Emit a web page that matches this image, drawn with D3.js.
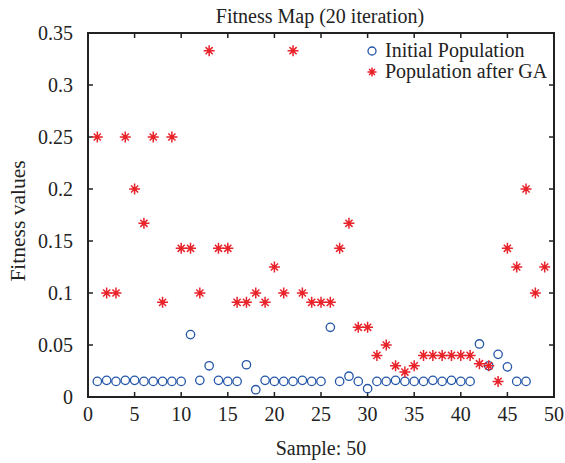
<!DOCTYPE html>
<html>
<head>
<script src="https://d3js.org/d3.v7.min.js"></script>
<style>
  body { margin: 0; background: #fff; }
  text { font-family: "Liberation Serif", "Times New Roman", serif; fill: #222; }
</style>
</head>
<body>
<div id="chart"></div>
<script>
// sample index per series
var initialX = d3.range(1, 48);
var initialY = [0.015, 0.016, 0.015, 0.016, 0.016, 0.015, 0.015, 0.015, 0.015, 0.015,
                0.060, 0.016, 0.030, 0.016, 0.015, 0.015, 0.031, 0.007, 0.016, 0.015,
                0.015, 0.015, 0.016, 0.015, 0.015, 0.067, 0.015, 0.020, 0.015, 0.008,
                0.015, 0.015, 0.016, 0.015, 0.015, 0.015, 0.016, 0.015, 0.016, 0.015,
                0.015, 0.051, 0.030, 0.041, 0.029, 0.015, 0.015];
var gaX = d3.range(1, 50);
var gaY = [0.25, 0.1, 0.1, 0.25, 0.2, 0.167, 0.25, 0.091, 0.25, 0.143,
           0.143, 0.1, 0.333, 0.143, 0.143, 0.091, 0.091, 0.1, 0.091, 0.125,
           0.1, 0.333, 0.1, 0.091, 0.091, 0.091, 0.143, 0.167, 0.067, 0.067,
           0.04, 0.05, 0.03, 0.024, 0.03, 0.04, 0.04, 0.04, 0.04, 0.04,
           0.04, 0.032, 0.03, 0.015, 0.143, 0.125, 0.2, 0.1, 0.125];
var xTicks = [0, 5, 10, 15, 20, 25, 30, 35, 40, 45, 50];
var yTicks = [0, 0.05, 0.1, 0.15, 0.2, 0.25, 0.3, 0.35];
var legendLabels = ["Initial Population", "Population after GA"];

var W = 565, H = 463;
var pLeft = 88, pRight = 554, pTop = 33, pBottom = 397;
var blue = "#2456a8", red = "#e8232a";

var svg = d3.select("#chart").append("svg")
    .attr("width", W).attr("height", H);

var x = d3.scaleLinear().domain([0, 50]).range([pLeft, pRight]);
var y = d3.scaleLinear().domain([0, 0.35]).range([pBottom, pTop]);

// box
svg.append("rect")
    .attr("x", pLeft).attr("y", pTop)
    .attr("width", pRight - pLeft).attr("height", pBottom - pTop)
    .attr("fill", "none").attr("stroke", "#222").attr("stroke-width", 2);

// inward ticks on all four sides
var tl = 5;
svg.selectAll(".xt").data(xTicks).enter().append("path")
    .attr("d", function(d) {
        return "M" + x(d) + "," + pBottom + "v" + (-tl) + "M" + x(d) + "," + pTop + "v" + tl;
    })
    .attr("stroke", "#222").attr("stroke-width", 1.5);
svg.selectAll(".yt").data(yTicks).enter().append("path")
    .attr("d", function(d) {
        return "M" + pLeft + "," + y(d) + "h" + tl + "M" + pRight + "," + y(d) + "h" + (-tl);
    })
    .attr("stroke", "#222").attr("stroke-width", 1.5);

svg.selectAll(".xl").data(xTicks).enter().append("text")
    .attr("x", function(d) { return x(d); })
    .attr("y", pBottom + 24)
    .attr("text-anchor", "middle")
    .attr("font-size", 20)
    .text(function(d) { return d; });
svg.selectAll(".yl").data(yTicks).enter().append("text")
    .attr("x", 73)
    .attr("y", function(d) { return y(d) + 7; })
    .attr("text-anchor", "end")
    .attr("font-size", 20)
    .text(function(d) { return d; });

svg.append("text")
    .attr("x", 320).attr("y", 23)
    .attr("text-anchor", "middle").attr("font-size", 20)
    .text("Fitness Map (20 iteration)");
svg.append("text")
    .attr("x", 321).attr("y", 455)
    .attr("text-anchor", "middle").attr("font-size", 20)
    .text("Sample: 50");
svg.append("text")
    .attr("transform", "translate(25,221) rotate(-90)")
    .attr("text-anchor", "middle").attr("font-size", 21.5)
    .text("Fitness values");

function star(g, cx, cy, s) {
    var d = s * 0.65;
    g.append("path")
        .attr("d", "M" + (cx - s) + "," + cy + "h" + (2 * s) +
                   "M" + cx + "," + (cy - s) + "v" + (2 * s) +
                   "M" + (cx - d) + "," + (cy - d) + "l" + (2 * d) + "," + (2 * d) +
                   "M" + (cx - d) + "," + (cy + d) + "l" + (2 * d) + "," + (-2 * d))
        .attr("stroke", red).attr("stroke-width", 1.5).attr("fill", "none");
    g.append("circle").attr("cx", cx).attr("cy", cy).attr("r", 2).attr("fill", red);
}

// initial population circles
svg.append("g").selectAll("circle")
    .data(initialY).enter().append("circle")
    .attr("cx", function(d, i) { return x(initialX[i]); })
    .attr("cy", function(d) { return y(d); })
    .attr("r", 4.2)
    .attr("fill", "none").attr("stroke", blue).attr("stroke-width", 1.3);

// GA stars
var gs = svg.append("g");
gaY.forEach(function(d, i) { star(gs, x(gaX[i]), y(d), 5.5); });

// legend
var lg = svg.append("g");
lg.append("circle").attr("cx", 372).attr("cy", 51).attr("r", 4)
    .attr("fill", "none").attr("stroke", blue).attr("stroke-width", 1.3);
star(lg, 372, 72, 4.5);
lg.selectAll("text").data(legendLabels).enter().append("text")
    .attr("x", 385)
    .attr("y", function(d, i) { return 57 + i * 21; })
    .attr("font-size", 20)
    .text(function(d) { return d; });
</script>
</body>
</html>
